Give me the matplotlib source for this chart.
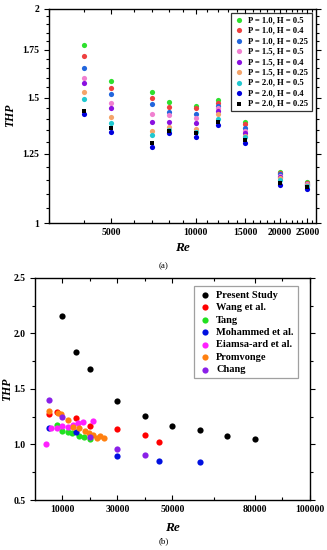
import matplotlib
matplotlib.use("Agg")
import matplotlib.pyplot as plt
from matplotlib.ticker import FixedLocator, NullFormatter, FixedFormatter, MultipleLocator

plt.rcParams['font.family'] = ['Liberation Serif', 'DejaVu Serif']
plt.rcParams['font.weight'] = 'bold'

# ---------------- Panel (a) data ----------------
re_a = [4000, 5000, 7000, 8000, 10000, 12000, 15000, 20000, 25000]
series_a_labels = ["P = 1.0, H = 0.5", "P = 1.0, H = 0.4", "P = 1.0, H = 0.25",
                   "P = 1.5, H = 0.5", "P = 1.5, H = 0.4", "P = 1.5, H = 0.25",
                   "P = 2.0, H = 0.5", "P = 2.0, H = 0.4", "P = 2.0, H = 0.25"]
p10_h05 = [1.778, 1.583, 1.529, 1.477, 1.461, 1.488, 1.388, 1.181, 1.141]
p10_h04 = [1.713, 1.549, 1.497, 1.457, 1.450, 1.473, 1.376, 1.176, 1.138]
p10_h025 = [1.649, 1.517, 1.468, 1.433, 1.421, 1.461, 1.358, 1.170, 1.136]
p15_h05 = [1.600, 1.475, 1.421, 1.418, 1.403, 1.450, 1.348, 1.165, 1.134]
p15_h04 = [1.571, 1.449, 1.387, 1.384, 1.382, 1.438, 1.336, 1.160, 1.132]
p15_h025 = [1.526, 1.407, 1.346, 1.365, 1.355, 1.421, 1.325, 1.155, 1.130]
p20_h05 = [1.492, 1.380, 1.329, 1.351, 1.344, 1.400, 1.319, 1.150, 1.128]
p20_h04 = [1.423, 1.344, 1.280, 1.336, 1.319, 1.373, 1.294, 1.130, 1.116]
p20_h025 = [1.436, 1.361, 1.294, 1.348, 1.336, 1.384, 1.307, 1.137, 1.125]
xticks_a = [5000, 10000, 15000, 20000, 25000]
yticks_a = [1, 1.25, 1.5, 1.75, 2]
yticklabels_a = ["1", "1.25", "1.5", "1.75", "2"]

# ---------------- Panel (b) data ----------------
present_re = [10000, 15000, 20000, 30000, 40000, 50000, 60000, 70000, 80000]
present_thp = [2.16, 1.83, 1.68, 1.39, 1.26, 1.17, 1.13, 1.08, 1.05]
wang_re = [5000, 8000, 15000, 20000, 30000, 40000, 45000]
wang_thp = [1.273, 1.288, 1.234, 1.168, 1.135, 1.086, 1.022]
tang_re = [8000, 10000, 12000, 13500, 16000, 18000, 20000]
tang_thp = [1.174, 1.12, 1.108, 1.10, 1.078, 1.069, 1.052]
mohammed_re = [5000, 15000, 30000, 45000, 60000]
mohammed_thp = [1.144, 1.114, 0.898, 0.85, 0.84]
eiamsa_re = [4000, 6000, 8000, 10000, 12000, 14000, 15500, 17500, 21000]
eiamsa_thp = [1.0, 1.144, 1.15, 1.165, 1.16, 1.174, 1.189, 1.198, 1.212]
promvonge_re = [5000, 8500, 9500, 12000, 14000, 16000, 18200, 19500, 21000, 22500, 23700, 25000]
promvonge_thp = [1.30, 1.28, 1.27, 1.219, 1.16, 1.144, 1.12, 1.10, 1.083, 1.054, 1.078, 1.06]
chang_re = [5000, 10000, 20000, 30000, 40000]
chang_thp = [1.40, 1.25, 1.07, 0.955, 0.902]
xticks_b = [10000, 30000, 50000, 80000, 100000]
xminor_b = [20000, 40000, 65000, 90000]
yticks_b = [0.5, 1.0, 1.5, 2.0, 2.5]

fig = plt.figure(figsize=(3.27, 5.5), dpi=100)

# ---------------- Panel (a) ----------------
ax1 = fig.add_axes([0.150, 0.5945, 0.816, 0.390])
cols_a = ["#2ee02e", "#ee4040", "#2266dd", "#f080d0", "#8a10e0",
          "#f4a46a", "#20c8d0", "#0000dd", "#000000"]
data_a = [p10_h05, p10_h04, p10_h025, p15_h05, p15_h04, p15_h025, p20_h05, p20_h04, p20_h025]
for lab, vals, c in zip(series_a_labels, data_a, cols_a):
    is_sq = lab == "P = 2.0, H = 0.25"
    ax1.scatter(re_a, vals, s=10 if is_sq else 14, color=c, marker='s' if is_sq else 'o',
                label=lab, zorder=3, linewidths=0)

ax1.set_xscale('log')
ax1.set_yscale('log')
ax1.set_xlim(3000, 26800)
ax1.set_ylim(1, 2)
ax1.xaxis.set_major_locator(FixedLocator(xticks_a))
ax1.xaxis.set_major_formatter(FixedFormatter([str(v) for v in xticks_a]))
ax1.xaxis.set_minor_locator(MultipleLocator(1000))
ax1.xaxis.set_minor_formatter(NullFormatter())
ax1.yaxis.set_major_locator(FixedLocator(yticks_a))
ax1.yaxis.set_major_formatter(FixedFormatter(yticklabels_a))
ax1.yaxis.set_minor_locator(MultipleLocator(0.05))
ax1.yaxis.set_minor_formatter(NullFormatter())
ax1.tick_params(which='both', top=True, right=True, labelsize=7, width=0.8)
ax1.tick_params(axis='x', which='both', direction='in')
ax1.tick_params(axis='y', which='both', direction='out')
ax1.tick_params(which='major', length=3.5)
ax1.tick_params(which='minor', length=2)
for lbl in ax1.get_xticklabels() + ax1.get_yticklabels():
    lbl.set_fontweight('bold')
for sp in ax1.spines.values():
    sp.set_linewidth(1.0)
ax1.set_ylabel("THP", fontsize=8.5, fontstyle='italic', fontweight='bold')
ax1.yaxis.set_label_coords(-0.125, 0.5)
ax1.set_xlabel("Re", fontsize=9.5, fontstyle='italic', fontweight='bold', labelpad=4)
leg1 = ax1.legend(loc='upper right', fontsize=6.2, frameon=True, fancybox=False,
                  edgecolor='black', handletextpad=0.4, borderpad=0.4,
                  labelspacing=0.28, handlelength=1.2, markerscale=1.0)
leg1.get_frame().set_linewidth(0.9)
fig.text(0.50, 0.516, "(a)", ha='center', va='center', fontsize=6.5, fontweight='normal')

# ---------------- Panel (b) ----------------
ax2 = fig.add_axes([0.107, 0.0909, 0.841, 0.404])
series_b = [("Present Study", present_re, present_thp, "#000000"),
            ("Wang et al.", wang_re, wang_thp, "#ff0000"),
            ("Tang", tang_re, tang_thp, "#20e020"),
            ("Mohammed et al.", mohammed_re, mohammed_thp, "#0010e0"),
            ("Eiamsa-ard et al.", eiamsa_re, eiamsa_thp, "#ff20ff"),
            ("Promvonge", promvonge_re, promvonge_thp, "#ff8010"),
            ("Chang", chang_re, chang_thp, "#8a20e8")]
for lab, xs, ys, c in series_b:
    ax2.scatter(xs, ys, s=20, color=c, label=lab, zorder=3, linewidths=0)
ax2.set_xlim(0, 100000)
ax2.set_ylim(0.5, 2.5)
ax2.xaxis.set_major_locator(FixedLocator(xticks_b))
ax2.xaxis.set_major_formatter(FixedFormatter([str(v) for v in xticks_b]))
ax2.xaxis.set_minor_locator(FixedLocator(xminor_b))
ax2.yaxis.set_major_locator(FixedLocator(yticks_b))
ax2.yaxis.set_major_formatter(FixedFormatter(["%.1f" % v for v in yticks_b]))
ax2.yaxis.set_minor_locator(MultipleLocator(0.25))
ax2.tick_params(which='both', top=True, right=True, labelsize=7, width=0.8)
ax2.tick_params(axis='x', which='both', direction='in')
ax2.tick_params(axis='y', which='both', direction='out')
ax2.tick_params(which='major', length=3.5)
ax2.tick_params(which='minor', length=2)
for lbl in ax2.get_xticklabels() + ax2.get_yticklabels():
    lbl.set_fontweight('bold')
for sp in ax2.spines.values():
    sp.set_linewidth(1.0)
ax2.set_ylabel("THP", fontsize=8.5, fontstyle='italic', fontweight='bold')
ax2.yaxis.set_label_coords(-0.08, 0.5)
ax2.set_xlabel("Re", fontsize=9.5, fontstyle='italic', fontweight='bold', labelpad=6)
leg2 = ax2.legend(loc='upper right', fontsize=7.5, frameon=True, fancybox=False,
                  edgecolor='#888888', handletextpad=0.5, borderpad=0.4,
                  labelspacing=0.3, handlelength=1.2, bbox_to_anchor=(0.975, 0.985))
leg2.get_frame().set_linewidth(0.9)
fig.text(0.50, 0.009, "(b)", ha='center', va='bottom', fontsize=6.5, fontweight='normal')

fig.savefig("out.png", dpi=100, facecolor='white')
